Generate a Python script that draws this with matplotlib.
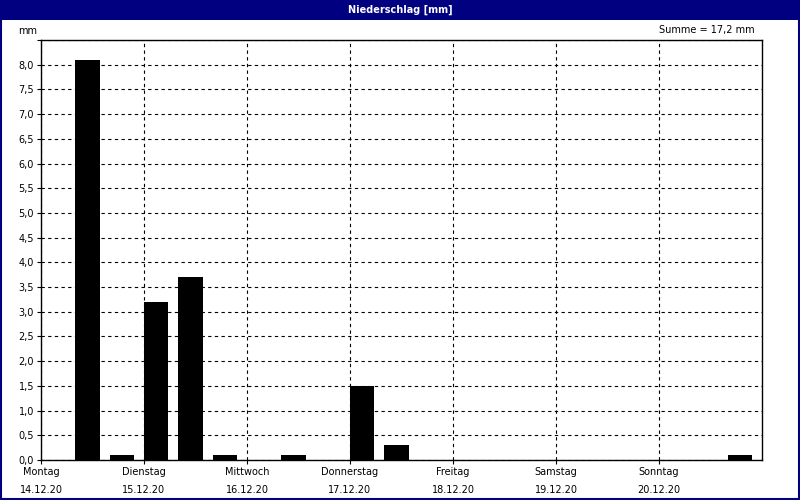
import numpy as np
import matplotlib
matplotlib.use("Agg")
import matplotlib.pyplot as plt
from matplotlib.patches import Rectangle
from matplotlib.ticker import FuncFormatter, MultipleLocator

# Niederschlag in 8-Stunden-Intervallen (mm)
precip = [8.1, 0.1, 3.2, 3.7, 0.1, 0.0, 0.1, 0.0, 1.5, 0.3,
          0.0, 0.0, 0.0, 0.0, 0.0, 0.0, 0.0, 0.0, 0.0, 0.1]
day_names = ["Montag", "Dienstag", "Mittwoch", "Donnerstag",
             "Freitag", "Samstag", "Sonntag"]
day_dates = ["14.12.20", "15.12.20", "16.12.20", "17.12.20",
             "18.12.20", "19.12.20", "20.12.20"]
title = "Niederschlag [mm]"

NAVY = "#000080"
FS = 7

fig = plt.figure(figsize=(8, 5), dpi=100)
fig.patch.set_facecolor("white")

# title bar and outer border
fig.add_artist(Rectangle((0, 0.96), 1, 0.04, transform=fig.transFigure,
                         facecolor=NAVY, edgecolor="none"))
fig.add_artist(Rectangle((0.001, 0.002), 0.998, 0.996, transform=fig.transFigure,
                         facecolor="none", edgecolor=NAVY, lw=1.5))
fig.text(0.5, 0.98, title, color="white", fontsize=FS, fontweight="bold",
         ha="center", va="center")

ax = fig.add_axes([41 / 800, 40 / 500, 721 / 800, 420 / 500])

# bar i starts at the end of its 8h interval
x = (np.arange(len(precip)) + 1) / 3.0
ax.bar(x, precip, width=0.235, align="edge", color="black", zorder=3)

ax.set_xlim(0, 7)
ax.set_ylim(0, 8.5)

ax.yaxis.set_major_locator(MultipleLocator(0.5))
ax.yaxis.set_major_formatter(FuncFormatter(
    lambda v, p: f"{v:.1f}".replace(".", ",") if v <= 8.0 else ""))
ax.set_xticks(range(7))
ax.set_xticklabels([f"{n}\n\n{d}" for n, d in zip(day_names, day_dates)],
                   linespacing=0.85)

ax.tick_params(axis="both", labelsize=FS, length=3, width=0.8, colors="black")
ax.tick_params(axis="y", pad=2)
ax.tick_params(axis="x", pad=2)

ax.grid(True, which="major", color="black", linestyle=(0, (3, 3)), lw=0.8, zorder=1)
for s in ax.spines.values():
    s.set_linewidth(1.0)

ax.text(-0.006, 1.01, "mm", transform=ax.transAxes, fontsize=FS,
        ha="right", va="bottom")
ax.text(0.99, 1.012, "Summe = 17,2 mm", transform=ax.transAxes, fontsize=FS,
        ha="right", va="bottom")

fig.savefig("out.png", dpi=100)
